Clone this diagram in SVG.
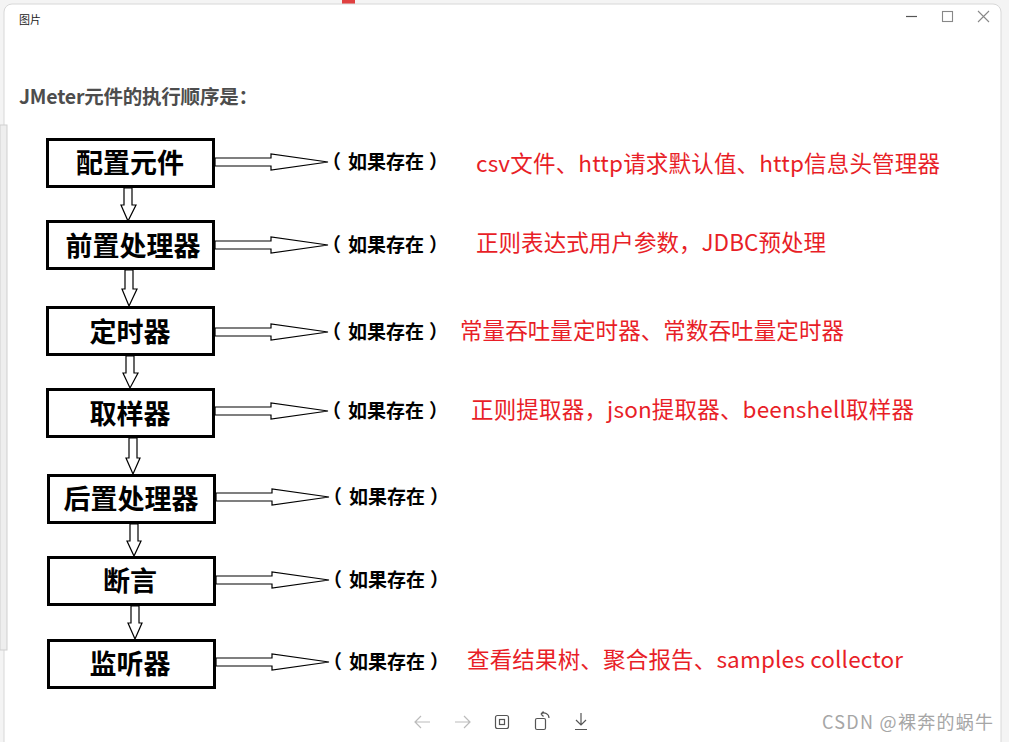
<svg xmlns="http://www.w3.org/2000/svg" width="1009" height="742" viewBox="0 0 1009 742">
<style>
.box{fill:#fff;stroke:#000;stroke-width:3}
.btxt{font-family:"Noto Sans CJK SC","Liberation Sans",sans-serif;font-weight:bold;font-size:27px;fill:#000;text-anchor:middle}
.cond{font-family:"Noto Sans CJK SC","Liberation Sans",sans-serif;font-weight:bold;font-size:19px;fill:#000}
.red{font-family:"Noto Sans CJK SC","Liberation Sans",sans-serif;font-size:22.5px;fill:#e81e27}
.arr{fill:#fff;stroke:#000;stroke-width:1.2;stroke-linejoin:miter}
.ico{fill:none;stroke:#555;stroke-width:1.2}
.icl{fill:none;stroke:#bbb;stroke-width:1.2}
</style>
<defs>
<path id="ra" d="M0,-4 H56 V-8 L113,0 L56,8 V4 H0 Z"/>
</defs>
<rect x="0" y="0" width="1009" height="742" fill="#f4f4f4"/>
<rect x="342" y="0" width="13" height="4" fill="#e04040"/>
<rect x="4" y="4" width="997" height="800" rx="8" fill="#fff" stroke="#d8d8d8"/>
<rect x="0" y="125" width="7" height="525" fill="#eeeeee" stroke="#cfcfcf" stroke-width="1"/>
<text x="19" y="24" font-family="Noto Sans CJK SC, sans-serif" font-size="11" fill="#222">图片</text>
<g id="winctl">
<line x1="906" y1="16.5" x2="917" y2="16.5" class="ico" stroke="#888"/>
<rect x="942.5" y="11.5" width="10" height="10" fill="none" stroke="#888" stroke-width="1.1"/>
<path d="M978,11 L989,22 M989,11 L978,22" fill="none" stroke="#888" stroke-width="1.1"/>
</g>
<text x="19" y="104" font-family="Noto Sans CJK SC, Liberation Sans, sans-serif" font-weight="bold" font-size="19.5" fill="#4d4d4d" textLength="239">JMeter元件的执行顺序是：</text>

<g id="connectors">
<use href="#ra" x="215" y="162" class="arr"/>
<use href="#ra" x="215" y="245" class="arr"/>
<use href="#ra" x="215" y="332" class="arr"/>
<use href="#ra" x="215" y="411" class="arr"/>
<use href="#ra" x="216" y="497" class="arr"/>
<use href="#ra" x="216" y="580" class="arr"/>
<use href="#ra" x="216" y="662" class="arr"/>
<path class="arr" d="M124,188 V205 H121 L128,221 L136,205 H132 V188 Z"/>
<path class="arr" d="M125,270 V289 H122 L129,306 L137,289 H133 V270 Z"/>
<path class="arr" d="M126,356 V373 H123 L130,388 L138,373 H134 V356 Z"/>
<path class="arr" d="M129,438 V458 H126 L133,474 L140,458 H137 V438 Z"/>
<path class="arr" d="M130,524 V541 H127 L134,556 L141,541 H138 V524 Z"/>
<path class="arr" d="M131,606 V623 H128 L135,639 L142,623 H139 V606 Z"/>
</g>

<g id="n1"><rect class="box" x="47.5" y="139.5" width="166" height="47"/><text class="btxt" x="130" y="173">配置元件</text></g>
<g id="n2"><rect class="box" x="47.5" y="221.5" width="166" height="47"/><text class="btxt" x="133" y="256">前置处理器</text></g>
<g id="n3"><rect class="box" x="47.5" y="307.5" width="166" height="47"/><text class="btxt" x="130" y="342">定时器</text></g>
<g id="n4"><rect class="box" x="47.5" y="389.5" width="166" height="47"/><text class="btxt" x="130" y="424">取样器</text></g>
<g id="n5"><rect class="box" x="48.5" y="475.5" width="166" height="47"/><text class="btxt" x="131" y="509">后置处理器</text></g>
<g id="n6"><rect class="box" x="48.5" y="557.5" width="166" height="47"/><text class="btxt" x="130" y="591">断言</text></g>
<g id="n7"><rect class="box" x="48.5" y="640.5" width="166" height="47"/><text class="btxt" x="130" y="674">监听器</text></g>

<g id="conds">
<text class="cond" x="322" y="169">（<tspan dx="7">如果存在</tspan><tspan dx="5">）</tspan></text>
<text class="cond" x="322" y="252">（<tspan dx="7">如果存在</tspan><tspan dx="5">）</tspan></text>
<text class="cond" x="322" y="339">（<tspan dx="7">如果存在</tspan><tspan dx="5">）</tspan></text>
<text class="cond" x="322" y="418">（<tspan dx="7">如果存在</tspan><tspan dx="5">）</tspan></text>
<text class="cond" x="323" y="504">（<tspan dx="7">如果存在</tspan><tspan dx="5">）</tspan></text>
<text class="cond" x="323" y="587">（<tspan dx="7">如果存在</tspan><tspan dx="5">）</tspan></text>
<text class="cond" x="323" y="669">（<tspan dx="7">如果存在</tspan><tspan dx="5">）</tspan></text>
</g>

<g id="notes">
<text class="red" x="476" y="172" textLength="464">csv文件、http请求默认值、http信息头管理器</text>
<text class="red" x="476" y="251" textLength="350">正则表达式用户参数，JDBC预处理</text>
<text class="red" x="460" y="339" textLength="384">常量吞吐量定时器、常数吞吐量定时器</text>
<text class="red" x="471" y="418" textLength="443">正则提取器，json提取器、beenshell取样器</text>
<text class="red" x="467" y="668" textLength="436">查看结果树、聚合报告、samples collector</text>
</g>

<g id="toolbar">
<path class="icl" d="M430,722 H415 M421,716 L415,722 L421,728"/>
<path class="icl" d="M455,722 H470 M464,716 L470,722 L464,728"/>
<rect x="495.5" y="715.5" width="13" height="13" rx="2" class="ico"/>
<rect x="499.5" y="719.5" width="5" height="5" class="ico"/>
<rect x="535.5" y="718.5" width="10" height="11" rx="1.5" class="ico"/>
<path class="ico" d="M541,714 A5,5 0 0 1 549,718 M541,714 L543.5,711.5 M541,714 L543.5,716.5"/>
<path class="ico" d="M581,713 V725 M576,720 L581,725 L586,720 M575,729.5 H587"/>
<text x="822" y="729" font-family="Noto Sans CJK SC, Liberation Sans, sans-serif" font-size="18" fill="#a6a6a6" textLength="171">CSDN @裸奔的蜗牛</text>
</g>
</svg>
